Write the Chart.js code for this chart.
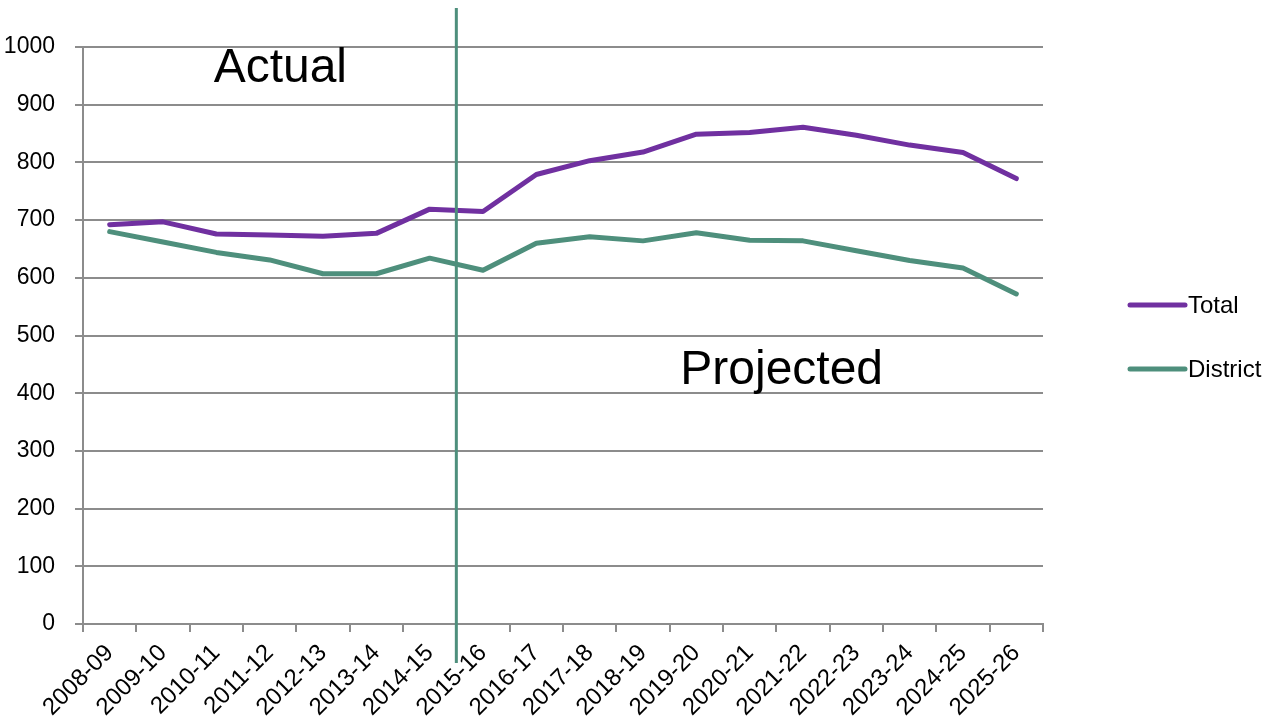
<!DOCTYPE html>
<html lang="en">
<head>
  <meta charset="UTF-8" />
  <title>Enrollment: actual and projected</title>
  <script src="https://cdn.jsdelivr.net/npm/chart.js"></script>
  <style>
    html, body {
      margin: 0;
      background: white;
    }
    #wrap {
      width: 1278px;
      height: 727px;
      position: relative;
    }
  </style>
</head>
<body>
  <div id="wrap">
    <canvas id="chart"></canvas>
  </div>

  <script>
    // school years on the x axis
    const years = [
      "2008-09", "2009-10", "2010-11", "2011-12", "2012-13", "2013-14",
      "2014-15", "2015-16", "2016-17", "2017-18", "2018-19", "2019-20",
      "2020-21", "2021-22", "2022-23", "2023-24", "2024-25", "2025-26"
    ];
    const totalValues = [692, 697, 676, 674, 672, 677, 719, 715, 779, 803, 818, 849, 852, 861, 847, 830, 817, 772];
    const districtValues = [680, 662, 644, 631, 607, 607, 634, 613, 660, 671, 664, 678, 665, 664, 647, 630, 617, 572];
    const yTicks = [0, 100, 200, 300, 400, 500, 600, 700, 800, 900, 1000];

    const purple = "#7030a0";
    const green = "#4e8f7c";
    const gridGray = "#8c8c8c";
    const fontFamily = "'Liberation Sans', Arial, sans-serif";

    // divider between actual and projected, the two labels, and the legend
    const dividerPlugin = {
      id: "divider",
      afterDatasetsDraw(chart) {
        const { ctx, chartArea, scales } = chart;
        const x = (scales.x.getPixelForValue(6) + scales.x.getPixelForValue(7)) / 2;
        ctx.save();
        ctx.strokeStyle = green;
        ctx.lineWidth = 3;
        ctx.beginPath();
        ctx.moveTo(x, chartArea.top - 39);
        ctx.lineTo(x, chartArea.bottom + 39);
        ctx.stroke();

        ctx.fillStyle = "#000";
        ctx.font = "48px " + fontFamily;
        ctx.textAlign = "center";
        ctx.textBaseline = "middle";
        ctx.fillText("Actual", scales.x.getPixelForValue(3.2), scales.y.getPixelForValue(963));
        ctx.fillText("Projected", scales.x.getPixelForValue(12.6), scales.y.getPixelForValue(439));

        // legend
        const lx = chartArea.right + 87;
        const midY = (chartArea.top + chartArea.bottom) / 2 + 1.5;
        ctx.font = "24px " + fontFamily;
        ctx.textAlign = "left";
        ctx.lineCap = "round";
        ctx.lineWidth = 5;
        chart.data.datasets.forEach((ds, i) => {
          const y = midY + (i === 0 ? -32 : 32);
          ctx.strokeStyle = ds.borderColor;
          ctx.beginPath();
          ctx.moveTo(lx, y);
          ctx.lineTo(lx + 55, y);
          ctx.stroke();
          ctx.fillText(ds.label, lx + 58, y + 1);
        });
        ctx.restore();
      }
    };

    new Chart(document.getElementById("chart"), {
      type: "line",
      data: {
        labels: years,
        datasets: [
          {
            label: "Total",
            data: totalValues,
            borderColor: purple,
            backgroundColor: purple,
            borderWidth: 5,
            borderCapStyle: "round",
            borderJoinStyle: "round",
            pointRadius: 0,
            tension: 0
          },
          {
            label: "District",
            data: districtValues,
            borderColor: green,
            backgroundColor: green,
            borderWidth: 5,
            borderCapStyle: "round",
            borderJoinStyle: "round",
            pointRadius: 0,
            tension: 0
          }
        ]
      },
      options: {
        responsive: true,
        maintainAspectRatio: false,
        animation: false,
        layout: { padding: { top: 47, left: 4, right: 235, bottom: 0 } },
        plugins: {
          tooltip: { enabled: false },
          legend: { display: false }
        },
        scales: {
          x: {
            offset: true,
            afterFit(axis) { axis.height = 103; },
            grid: {
              offset: true,
              drawOnChartArea: false,
              drawTicks: true,
              tickLength: 8,
              color: gridGray,
              lineWidth: 2
            },
            border: { color: gridGray, width: 2 },
            ticks: {
              color: "#000",
              minRotation: 45,
              maxRotation: 45,
              autoSkip: false,
              padding: 7,
              font: { family: fontFamily, size: 24 }
            }
          },
          y: {
            min: 0,
            max: 1000,
            afterFit(axis) { axis.width = 79; },
            afterBuildTicks(axis) {
              axis.ticks = yTicks.map(v => ({ value: v }));
            },
            grid: {
              color: gridGray,
              lineWidth: 2,
              tickLength: 8
            },
            border: { color: gridGray, width: 2 },
            ticks: {
              color: "#000",
              padding: 20,
              callback: v => String(v),
              font: { family: fontFamily, size: 23 }
            }
          }
        }
      },
      plugins: [dividerPlugin]
    });
  </script>
</body>
</html>
